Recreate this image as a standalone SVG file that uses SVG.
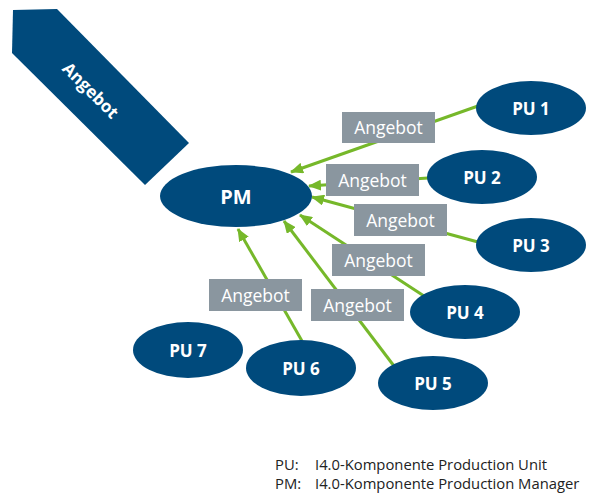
<svg xmlns="http://www.w3.org/2000/svg" width="590" height="495" viewBox="0 0 590 495">
<style>
.node{fill:#004a7c}
.nt{fill:#fff;font-family:"Open Sans","Noto Sans",sans-serif;font-weight:bold;text-anchor:middle;dominant-baseline:central}
.lbl rect{fill:#8a969f}
.lbl text{fill:#fff;font-family:"Open Sans","Noto Sans",sans-serif;font-size:17.5px;text-anchor:middle;dominant-baseline:central}
.conn line{stroke:#76b82a;stroke-width:3;marker-end:url(#ah)}
.leg{fill:#222;font-family:"Open Sans","Noto Sans",sans-serif;font-size:14.8px}
</style>
<defs>
<marker id="ah" markerUnits="userSpaceOnUse" markerWidth="13" markerHeight="11" refX="12" refY="5.5" orient="auto" viewBox="0 0 13 11">
<path d="M0,0 L13,5.5 L0,11 z" fill="#76b82a"/>
</marker>
</defs>
<g id="bigArrow">
<polygon class="node" points="13,10 57,9 189,143 145,185 12,53"/>
<text class="nt" font-size="17" transform="translate(91,90) rotate(45)">Angebot</text>
</g>
<g id="connectors" class="conn">
<line x1="478" y1="106" x2="291" y2="172"/>
<line x1="428" y1="178" x2="309" y2="186"/>
<line x1="478" y1="242" x2="312" y2="197"/>
<line x1="424" y1="296" x2="300" y2="215"/>
<line x1="394" y1="366" x2="284" y2="221"/>
<line x1="302" y1="341" x2="238" y2="229"/>
</g>
<g id="labels">
<g class="lbl" id="lbl1"><rect x="342" y="112" width="93" height="31"/><text x="388.5" y="127">Angebot</text></g>
<g class="lbl" id="lbl2"><rect x="326" y="164" width="93" height="32"/><text x="372.5" y="179.5">Angebot</text></g>
<g class="lbl" id="lbl3"><rect x="354" y="204" width="93" height="32"/><text x="400.5" y="219.5">Angebot</text></g>
<g class="lbl" id="lbl4"><rect x="332" y="244" width="93" height="32"/><text x="378.5" y="259.5">Angebot</text></g>
<g class="lbl" id="lbl5"><rect x="311" y="289" width="93" height="32"/><text x="357.5" y="304.5">Angebot</text></g>
<g class="lbl" id="lbl6"><rect x="209" y="279" width="93" height="32"/><text x="255.5" y="294.5">Angebot</text></g>
</g>
<g id="PM"><ellipse class="node" cx="236" cy="196" rx="76" ry="31"/><text class="nt" x="236" y="196" font-size="20">PM</text></g>
<g id="PU1"><ellipse class="node" cx="531" cy="108" rx="55" ry="27"/><text class="nt" x="531" y="108" font-size="17">PU 1</text></g>
<g id="PU2"><ellipse class="node" cx="482" cy="177" rx="55" ry="27"/><text class="nt" x="482" y="177" font-size="17">PU 2</text></g>
<g id="PU3"><ellipse class="node" cx="531" cy="245" rx="55" ry="27"/><text class="nt" x="531" y="245" font-size="17">PU 3</text></g>
<g id="PU4"><ellipse class="node" cx="465" cy="312" rx="55" ry="27"/><text class="nt" x="465" y="312" font-size="17">PU 4</text></g>
<g id="PU5"><ellipse class="node" cx="433" cy="383" rx="55" ry="27"/><text class="nt" x="433" y="383" font-size="17">PU 5</text></g>
<g id="PU6"><ellipse class="node" cx="301" cy="368" rx="55" ry="28"/><text class="nt" x="301" y="368" font-size="17">PU 6</text></g>
<g id="PU7"><ellipse class="node" cx="188" cy="350" rx="55" ry="28"/><text class="nt" x="188" y="350" font-size="17">PU 7</text></g>
<g id="legend">
<text class="leg" x="275" y="470">PU:</text>
<text class="leg" x="315" y="470">I4.0-Komponente Production Unit</text>
<text class="leg" x="275" y="489">PM:</text>
<text class="leg" x="315" y="489">I4.0-Komponente Production Manager</text>
</g>
</svg>
